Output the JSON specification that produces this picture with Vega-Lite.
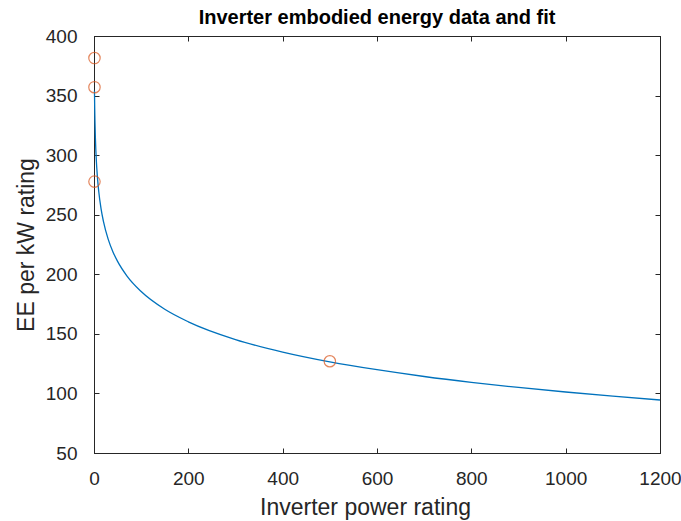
{
  "$schema": "https://vega.github.io/schema/vega-lite/v6.json",
  "width": 566,
  "height": 417,
  "autosize": {"type": "none"},
  "padding": {"left": 94, "top": 36, "right": 21, "bottom": 68},
  "background": "white",
  "title": {"text": "Inverter embodied energy data and fit", "font": "Liberation Sans", "fontSize": 20, "fontWeight": "bold", "color": "#000000", "anchor": "middle", "offset": -1},
  "config": {
    "view": {"stroke": "#262626", "strokeWidth": 1},
    "axis": {"grid": false, "domainColor": "#262626", "tickColor": "#262626", "tickSize": -5, "labelColor": "#262626", "titleColor": "#262626", "labelFont": "Liberation Sans", "titleFont": "Liberation Sans", "labelFontSize": 19, "titleFontSize": 23, "titleFontWeight": "normal", "domainWidth": 1, "tickWidth": 1, "labelFlush": false, "labelOverlap": false, "format": "d"}
  },
  "datasets": {
    "fit": [
      {"x": 1, "y": 354}, {"x": 1.5, "y": 339.2}, {"x": 2, "y": 328.6}, {"x": 3, "y": 313.8}, {"x": 5, "y": 295.1},
      {"x": 7, "y": 282.8}, {"x": 10, "y": 269.7}, {"x": 15, "y": 254.9}, {"x": 20, "y": 244.4}, {"x": 30, "y": 229.5},
      {"x": 40, "y": 219.0}, {"x": 50, "y": 210.8}, {"x": 70, "y": 198.5}, {"x": 100, "y": 185.5}, {"x": 150, "y": 170.6},
      {"x": 200, "y": 160.1}, {"x": 300, "y": 145.2}, {"x": 400, "y": 134.7}, {"x": 500, "y": 126.5}, {"x": 600, "y": 119.9},
      {"x": 700, "y": 114.2}, {"x": 800, "y": 109.3}, {"x": 900, "y": 105.0}, {"x": 1000, "y": 101.2}, {"x": 1100, "y": 97.7},
      {"x": 1200, "y": 94.5}
    ],
    "obs": [
      {"x": 1, "y": 381.5}, {"x": 1, "y": 357}, {"x": 1, "y": 277.8}, {"x": 500, "y": 127}
    ]
  },
  "layer": [
    {
      "data": {"name": "fit"},
      "mark": {"type": "line", "color": "#0072BD", "strokeWidth": 1.3, "interpolate": "monotone"},
      "encoding": {
        "x": {"field": "x", "type": "quantitative", "scale": {"domain": [0, 1200], "nice": false}, "axis": {"orient": "bottom", "values": [0, 200, 400, 600, 800, 1000, 1200], "title": "Inverter power rating", "labelPadding": 21, "labelDx": -2, "titlePadding": 8, "titleX": 271}},
        "y": {"field": "y", "type": "quantitative", "scale": {"domain": [50, 400], "nice": false, "zero": false}, "axis": {"orient": "left", "values": [50, 100, 150, 200, 250, 300, 350, 400], "title": "EE per kW rating", "labelPadding": 22, "titlePadding": 7}}
      }
    },
    {
      "data": {"name": "obs"},
      "mark": {"type": "point", "shape": "circle", "filled": false, "color": "#D95319", "size": 130, "strokeWidth": 1.2},
      "encoding": {
        "x": {"field": "x", "type": "quantitative", "axis": {"orient": "top", "values": [0, 200, 400, 600, 800, 1000, 1200], "labels": false, "title": null}},
        "y": {"field": "y", "type": "quantitative", "axis": {"orient": "right", "values": [50, 100, 150, 200, 250, 300, 350, 400], "labels": false, "title": null}}
      }
    }
  ],
  "resolve": {"axis": {"x": "independent", "y": "independent"}}
}
